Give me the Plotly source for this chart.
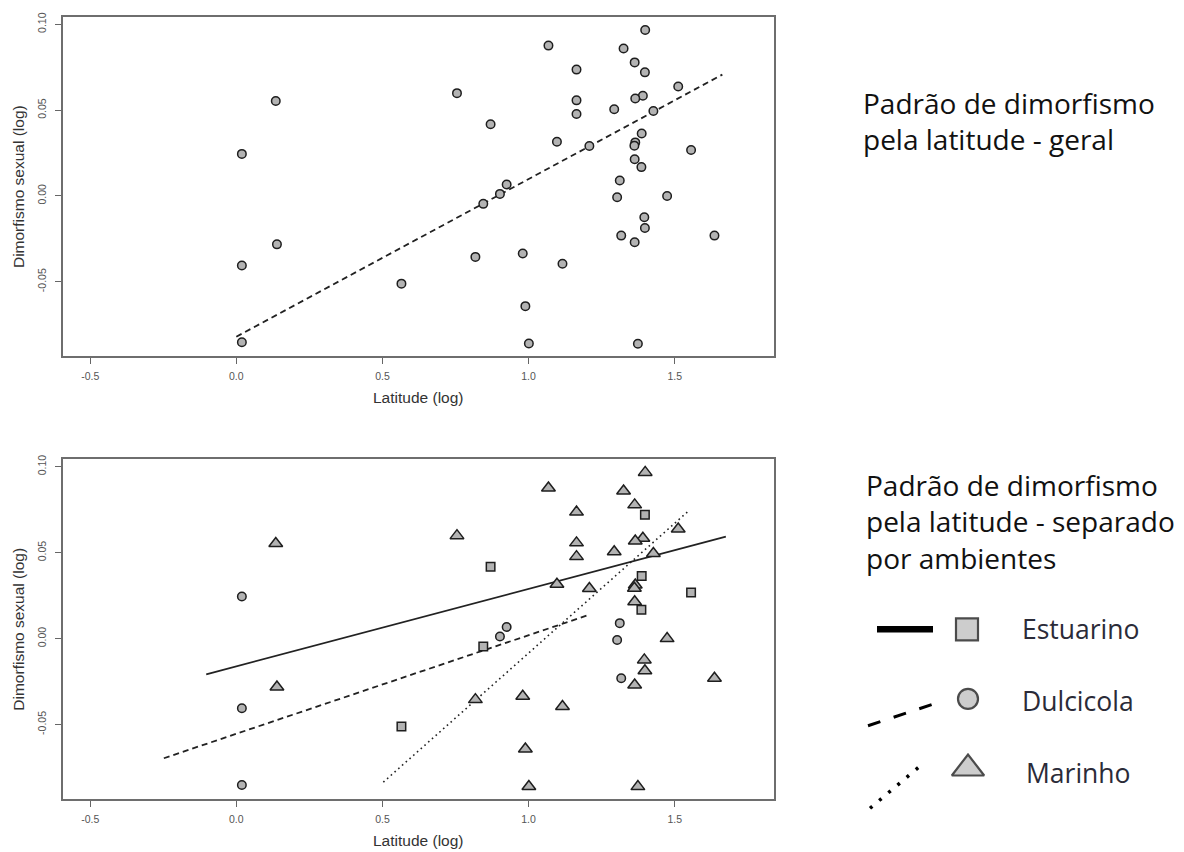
import plotly.graph_objects as go

# ---- data ----
latitude = [0.019, 0.135, 0.139, 0.019, 0.019, 1.399, 1.068, 1.325, 1.363, 1.398,
            1.164, 0.755, 1.512, 1.391, 1.365, 1.164, 1.293, 1.427, 1.164, 0.870,
            1.387, 1.097, 1.208, 1.365, 1.362, 1.556, 1.363, 1.386, 1.312, 0.925,
            0.902, 1.303, 1.474, 0.845, 1.396, 1.398, 1.317, 1.636, 1.363, 0.818,
            0.980, 1.116, 0.565, 0.989, 1.001, 1.374]
dimorfismo = [0.0245, 0.0553, -0.0282, -0.0405, -0.0852, 0.0967, 0.0876, 0.0859, 0.0778, 0.0720,
              0.0736, 0.0599, 0.0638, 0.0584, 0.0568, 0.0557, 0.0505, 0.0495, 0.0477, 0.0418,
              0.0364, 0.0316, 0.0291, 0.0312, 0.0293, 0.0268, 0.0214, 0.0168, 0.0090, 0.0067,
              0.0012, -0.0008, 0.0000, -0.0046, -0.0124, -0.0187, -0.0231, -0.0231, -0.0270, -0.0355,
              -0.0335, -0.0395, -0.0511, -0.0642, -0.0860, -0.0861]
ambiente = ["D", "M", "M", "D", "D", "M", "M", "M", "M", "E",
            "M", "M", "M", "M", "M", "M", "M", "M", "M", "E",
            "E", "M", "M", "M", "M", "E", "M", "E", "D", "D",
            "D", "D", "M", "E", "M", "M", "D", "M", "M", "M",
            "M", "M", "E", "M", "M", "M"]

fit_geral_x = [0.0, 1.663]
fit_geral_y = [-0.082, 0.0707]
fit_estuarino_x = [-0.103, 1.675]
fit_estuarino_y = [-0.0208, 0.0593]
fit_dulcicola_x = [-0.248, 1.208]
fit_dulcicola_y = [-0.0696, 0.0139]
fit_marinho_x = [0.503, 1.547]
fit_marinho_y = [-0.0835, 0.0742]

x_ticks = [-0.5, 0.0, 0.5, 1.0, 1.5]
x_ticktext = ["-0.5", "0.0", "0.5", "1.0", "1.5"]
y_ticks = [-0.05, 0.0, 0.05, 0.10]
y_ticktext = ["-0.05", "0.00", "0.05", "0.10"]

grupos = [("E", "square", 8.5), ("D", "circle", 8.5), ("M", "triangle-up", 12)]

W, H = 1184, 852
FILL = "#b3b3b3"
EDGE = "#1e1e1e"

fig = go.Figure()

# ---- top panel ----
fig.add_trace(go.Scatter(x=fit_geral_x, y=fit_geral_y, mode="lines",
                         line=dict(color="#222", width=1.8, dash="6px,4px"),
                         xaxis="x", yaxis="y", showlegend=False, hoverinfo="skip"))
fig.add_trace(go.Scatter(x=latitude, y=dimorfismo, mode="markers",
                         marker=dict(symbol="circle", size=8.5, color=FILL,
                                     line=dict(color=EDGE, width=1.5)),
                         xaxis="x", yaxis="y", showlegend=False))

# ---- bottom panel ----
fig.add_trace(go.Scatter(x=fit_estuarino_x, y=fit_estuarino_y, mode="lines",
                         line=dict(color="#222", width=1.8),
                         xaxis="x2", yaxis="y2", showlegend=False, hoverinfo="skip"))
fig.add_trace(go.Scatter(x=fit_dulcicola_x, y=fit_dulcicola_y, mode="lines",
                         line=dict(color="#222", width=1.8, dash="6px,4px"),
                         xaxis="x2", yaxis="y2", showlegend=False, hoverinfo="skip"))
fig.add_trace(go.Scatter(x=fit_marinho_x, y=fit_marinho_y, mode="lines",
                         line=dict(color="#222", width=1.6, dash="1.6px,3.4px"),
                         xaxis="x2", yaxis="y2", showlegend=False, hoverinfo="skip"))
for g, sym, sz in grupos:
    xs = [x for x, a in zip(latitude, ambiente) if a == g]
    ys = [y for y, a in zip(dimorfismo, ambiente) if a == g]
    fig.add_trace(go.Scatter(x=xs, y=ys, mode="markers",
                             marker=dict(symbol=sym, size=sz, color=FILL,
                                         line=dict(color=EDGE, width=1.5)),
                             xaxis="x2", yaxis="y2", showlegend=False))

# ---- hand-drawn key (pixel-coordinate overlay axis) ----
fig.add_trace(go.Scatter(x=[877, 933], y=[628, 628], mode="lines",
                         line=dict(color="#000", width=6.5),
                         xaxis="x3", yaxis="y3", showlegend=False, hoverinfo="skip"))
fig.add_trace(go.Scatter(x=[868, 937], y=[725, 702], mode="lines",
                         line=dict(color="#000", width=3, dash="13px,14px"),
                         xaxis="x3", yaxis="y3", showlegend=False, hoverinfo="skip"))
fig.add_trace(go.Scatter(x=[870, 923], y=[808, 763], mode="lines",
                         line=dict(color="#000", width=3.5, dash="3px,9px"),
                         xaxis="x3", yaxis="y3", showlegend=False, hoverinfo="skip"))
fig.add_trace(go.Scatter(x=[967, 968, 968], y=[628, 698, 768], mode="markers",
                         marker=dict(symbol=["square", "circle", "triangle-up"],
                                     size=[22, 20, 28], color="#b8b8b8",
                                     line=dict(color="#000", width=2.2)),
                         cliponaxis=False,
                         xaxis="x3", yaxis="y3", showlegend=False, hoverinfo="skip"))

# ---- axes ----
x_left, x_right = 63 / W, 773.5 / W
x_range = [-0.593, 1.838]
y_range = [-0.0935, 0.1043]

def xax(domain, anchor):
    return dict(domain=domain, anchor=anchor, range=x_range,
                tickvals=x_ticks, ticktext=x_ticktext, ticks="outside", ticklen=6,
                tickwidth=1.2, tickcolor="#666", showline=True, linecolor="#6e6e6e",
                linewidth=1.5, mirror=True, showgrid=False, zeroline=False,
                tickfont=dict(family="Arial, Liberation Sans", size=10.5, color="#555"),
                ticklabelstandoff=3,
                title=dict(text="Latitude (log)", standoff=11,
                           font=dict(family="Arial, Liberation Sans", size=15.5, color="#333")))

def yax(domain, anchor):
    return dict(domain=domain, anchor=anchor, range=y_range,
                tickvals=y_ticks, ticktext=y_ticktext, ticks="outside", ticklen=6,
                tickwidth=1.2, tickcolor="#666", showline=True, linecolor="#6e6e6e",
                linewidth=1.5, mirror=True, showgrid=False, zeroline=False,
                tickangle=-90,
                tickfont=dict(family="Arial, Liberation Sans", size=10.5, color="#555"),
                ticklabelstandoff=5,
                title=dict(text="Dimorfismo sexual (log)", standoff=8,
                           font=dict(family="Arial, Liberation Sans", size=15.5, color="#333")))

fig.update_layout(
    width=W, height=H,
    margin=dict(l=0, r=0, t=0, b=0),
    paper_bgcolor="white", plot_bgcolor="rgba(0,0,0,0)",
    xaxis=xax([x_left, x_right], "y"),
    yaxis=yax([1 - 353.5 / H, 1 - 12 / H], "x"),
    xaxis2=xax([x_left, x_right], "y2"),
    yaxis2=yax([1 - 799 / H, 1 - 457 / H], "x2"),
    xaxis3=dict(domain=[0, 1], anchor="y3", range=[0, W], visible=False),
    yaxis3=dict(domain=[0, 1], anchor="x3", range=[H, 0], visible=False),
    showlegend=False,
)

TITLE_FONT = dict(family="Open Sans", size=28, color="#111")
KEY_FONT = dict(family="Open Sans", size=26.5, color="#2b2b38")
ann = [
    dict(text="Padrão de dimorfismo<br>pela latitude - geral", x=861 / W, y=1 - 117 / H,
         font=TITLE_FONT, yanchor="middle"),
    dict(text="Padrão de dimorfismo<br>pela latitude - separado<br>por ambientes",
         x=864 / W, y=1 - 520 / H, font=TITLE_FONT, yanchor="middle"),
    dict(text="Estuarino", x=1020 / W, y=1 - 628 / H, font=KEY_FONT, yanchor="middle"),
    dict(text="Dulcicola", x=1020 / W, y=1 - 700 / H, font=KEY_FONT, yanchor="middle"),
    dict(text="Marinho", x=1024 / W, y=1 - 773 / H, font=KEY_FONT, yanchor="middle"),
]
for a in ann:
    fig.add_annotation(xref="paper", yref="paper", xanchor="left", align="left",
                       showarrow=False, **a)

fig.write_html("out.html", config={"displayModeBar": False},
               post_script="document.body.style.margin='0';document.body.style.overflow='hidden';")
